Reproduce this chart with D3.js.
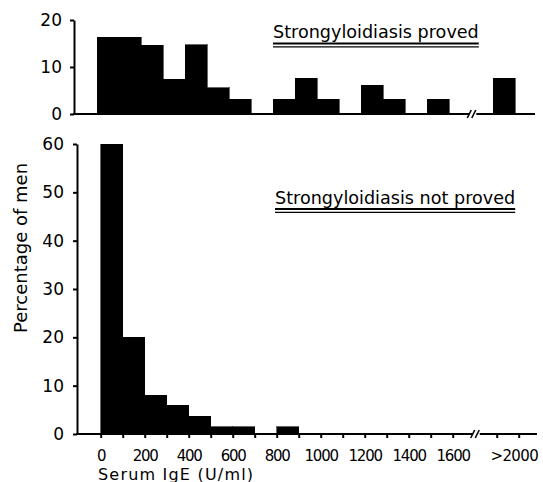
<!DOCTYPE html>
<html>
<head>
<meta charset="utf-8">
<script src="https://cdn.jsdelivr.net/npm/d3@7"></script>
<style>
  html, body { margin: 0; padding: 0; background: #fff; }
  svg { display: block; }
  text { font-family: "DejaVu Sans", sans-serif; fill: #000; }
</style>
</head>
<body>
<svg id="chart" width="543" height="482"></svg>
<script>
// ---- data ----
const binStarts = [0,100,200,300,400,500,600,700,800,900,1000,1100,1200,1300,1400,1500,1600];
const overBin = 1800;            // position of the ">2000" bin after the axis break
const overLabel = ">2000";
const provedValues = [16.3,16.3,14.6,7.4,14.7,5.6,3.1,0,3.1,7.6,3.1,0,6.1,3.1,0,3.1,0];
const provedOver = 7.6;
const notProvedValues = [60,20,8,6,3.7,1.5,1.5,0,1.5,0,0,0,0,0,0,0,0];
const notProvedOver = 0;
const xTickValues = [0,100,200,300,400,500,600,700,800,900,1000,1100,1200,1300,1400,1500,1600,1800,1900];
const xTickLabels = ["0","","200","","400","","600","","800","","1000","","1200","","1400","","1600","",""];
const topYTicks = [0,10,20];
const bottomYTicks = [0,10,20,30,40,50,60];
const topTitle = "Strongyloidiasis proved";
const bottomTitle = "Strongyloidiasis not proved";
const yTitle = "Percentage of men";
const xTitle = "Serum IgE (U/ml)";
const binWidth = 100;
const breakAt = 1700;

const svg = d3.select("#chart");

function drawPanel(cfg) {
  const g = svg.append("g");
  const x = d3.scaleLinear().domain([0, 2000]).range([cfg.x0, cfg.x0 + 440]);
  const y = d3.scaleLinear().domain(cfg.yDomain).range(cfg.yRange);

  // bars
  const data = cfg.values.map((v, i) => ({start: binStarts[i], v}));
  data.push({start: overBin, v: cfg.over});
  g.selectAll("rect.bar").data(data.filter(d => d.v > 0)).enter().append("rect")
    .attr("class", "bar")
    .attr("x", d => x(d.start))
    .attr("width", d => x(d.start + binWidth) - x(d.start))
    .attr("y", d => y(d.v))
    .attr("height", d => y(0) - y(d.v))
    .attr("fill", "#000")
    .attr("stroke", "#000").attr("stroke-width", 0.6)
    .attr("shape-rendering", "crispEdges");

  // y axis
  const ya = d3.axisLeft(y).tickValues(cfg.yTicks).tickSize(4).tickSizeOuter(0).tickPadding(cfg.yPad);
  const yg = g.append("g").attr("transform", `translate(${cfg.axisX},0)`).call(ya);
  yg.select(".domain").attr("stroke-width", 2);
  yg.selectAll(".tick line").attr("stroke-width", 2);
  yg.selectAll(".tick text").style("font-size", "17px").style("font-family", "DejaVu Sans, sans-serif");

  // x axis baseline with break
  const y0 = y(0);
  g.append("line").attr("x1", cfg.axisX - 1).attr("x2", x(breakAt) - 2)
    .attr("y1", y0).attr("y2", y0).attr("stroke", "#000").attr("stroke-width", 2);
  g.append("line").attr("x1", x(breakAt) + 5).attr("x2", cfg.axisEnd)
    .attr("y1", y0).attr("y2", y0).attr("stroke", "#000").attr("stroke-width", 2);
  [-2, 2.5].forEach(off => {
    g.append("line")
      .attr("x1", x(breakAt) + off - 2).attr("y1", y0 + 4)
      .attr("x2", x(breakAt) + off + 2).attr("y2", y0 - 4)
      .attr("stroke", "#000").attr("stroke-width", 1.6);
  });

  if (cfg.ticks) {
    const xa = d3.axisBottom(x).tickValues(xTickValues).tickSize(4).tickPadding(11)
      .tickFormat((d, i) => xTickLabels[i]);
    const xg = g.append("g").attr("transform", `translate(0,${y0})`).call(xa);
    xg.select(".domain").remove();
    xg.selectAll(".tick line").attr("stroke-width", 2);
    xg.selectAll(".tick text").style("font-size", "15px").style("font-family", "DejaVu Sans, sans-serif")
      .style("letter-spacing", "-1.2px").attr("dy", "0.78em");
    xg.append("text").attr("x", x(overBin + 80)).attr("y", 15).attr("dy", "0.78em")
      .attr("text-anchor", "middle").style("font-size", "15px").style("letter-spacing", "-0.6px")
      .style("fill", "#000").text(overLabel);
  }

  // panel title with double underline
  const t = g.append("text").attr("x", cfg.titleX).attr("y", cfg.titleY)
    .style("font-size", "17.6px").text(cfg.title);
  const w = t.node().getComputedTextLength();
  g.append("line").attr("x1", cfg.titleX).attr("x2", cfg.titleX + w)
    .attr("y1", cfg.titleY + 5.5).attr("y2", cfg.titleY + 5.5).attr("stroke", "#000").attr("stroke-width", 2.2);
  g.append("line").attr("x1", cfg.titleX).attr("x2", cfg.titleX + w)
    .attr("y1", cfg.titleY + 8.8).attr("y2", cfg.titleY + 8.8).attr("stroke", "#000").attr("stroke-width", 1.2);
  return {x, y};
}

drawPanel({
  x0: 97.3, axisX: 74, axisEnd: 535,
  yDomain: [0, 20], yRange: [114, 20], yTicks: topYTicks, yPad: 8,
  values: provedValues, over: provedOver, ticks: false,
  title: topTitle, titleX: 273, titleY: 38
});

drawPanel({
  x0: 100.7, axisX: 77, axisEnd: 537,
  yDomain: [0, 60], yRange: [434, 144], yTicks: bottomYTicks, yPad: 9,
  values: notProvedValues, over: notProvedOver, ticks: true,
  title: bottomTitle, titleX: 275, titleY: 203.5
});

// axis titles
svg.append("text").attr("transform", "translate(27,248) rotate(-90)")
  .attr("text-anchor", "middle").style("font-size", "18px").text(yTitle);
svg.append("text").attr("x", 98).attr("y", 479.5)
  .style("font-size", "16px").style("letter-spacing", "1.2px").text(xTitle);
</script>
</body>
</html>
